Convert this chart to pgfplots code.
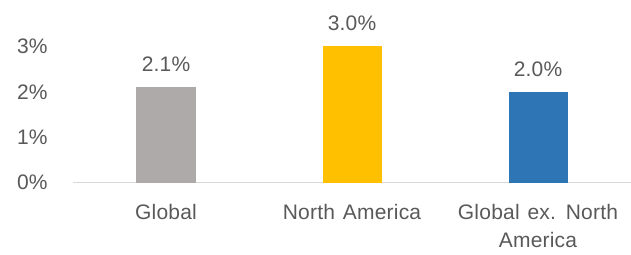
\documentclass[border=0pt]{standalone}
\usepackage{pgfplots}
\pgfplotsset{compat=1.18}
\usepackage{fontspec}
\setmainfont{Liberation Sans}[LetterSpace=1,WordSpace=1.3]
\definecolor{txt}{HTML}{595959}
\definecolor{cgray}{HTML}{AEAAAA}
\definecolor{cgold}{HTML}{FFC000}
\definecolor{cblue}{HTML}{2E75B6}
\definecolor{baseln}{HTML}{D9D9D9}
\begin{document}
\begin{tikzpicture}
\fontsize{21bp}{28bp}\selectfont
\begin{axis}[
  at={(0,0)}, anchor=south west,
  scale only axis,
  width=558bp, height=159.25bp,
  xmin=-0.5, xmax=2.5,
  ymin=0, ymax=3.5,
  axis x line=bottom,
  axis y line=left,
  x axis line style={draw=baseln, line width=1.3bp, -},
  y axis line style={draw=none},
  xtick={0,1,2},
  xticklabels={Global, North America, {Global ex. North\\America}},
  xtick style={draw=none},
  xticklabel style={anchor=north, inner sep=0pt, yshift=-17bp, align=center, text=txt, font=\fontsize{21bp}{28bp}\selectfont},
  ytick={0,1,2,3},
  ytick style={draw=none},
  yticklabel={\pgfmathprintnumber{\tick}\%},
  yticklabel style={anchor=east, inner sep=0pt, xshift=-23bp, text=txt, font=\fontsize{21bp}{24bp}\selectfont},
  /pgf/number format/assume math mode=true,
  ybar, bar width=59bp,
  nodes near coords={\pgfmathprintnumber[fixed,fixed zerofill,precision=1]{\pgfplotspointmeta}\%},
  nodes near coords style={anchor=south, inner sep=0pt, yshift=15bp, text=txt, font=\fontsize{21bp}{24bp}\selectfont},
  clip=false,
]
\addplot[fill=cgray, draw=none, bar shift=0pt] coordinates {(0,2.1)};
\addplot[fill=cgold, draw=none, bar shift=0pt] coordinates {(1,3.0)};
\addplot[fill=cblue, draw=none, bar shift=0pt] coordinates {(2,2.0)};
\end{axis}
\pgfresetboundingbox
\useasboundingbox (-73bp,-71.5bp) rectangle (558bp,182.75bp);
\end{tikzpicture}
\end{document}
